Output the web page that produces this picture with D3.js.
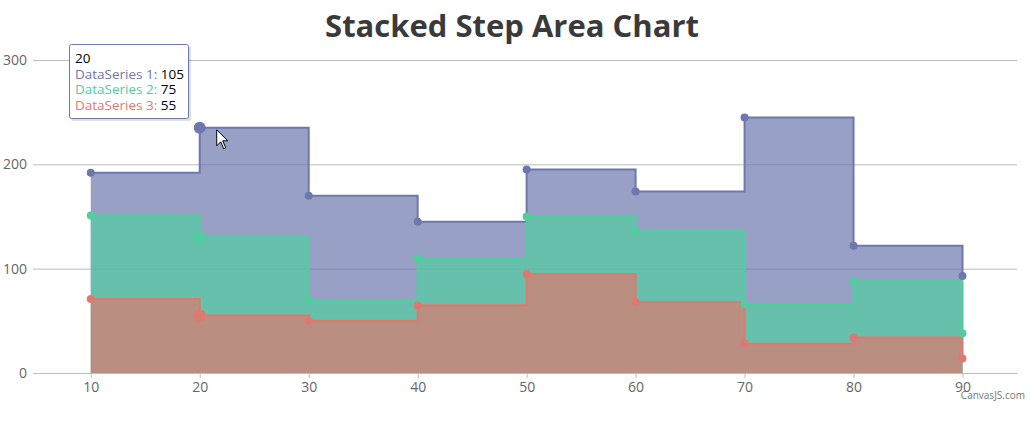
<!DOCTYPE html>
<html lang="en">
<head>
    <meta charset="UTF-8">
    <title>Stacked Step Area Chart</title>
    <script src="https://d3js.org/d3.v7.min.js"></script>
    <style>
        body { margin: 0; background: #fff; }
        text { font-family: "Open Sans", "DejaVu Sans", sans-serif; }
    </style>
</head>
<body>
    <div id="chart"></div>

    <script>
        // x values and the three series (bottom to top)
        const xValues = [10, 20, 30, 40, 50, 60, 70, 80, 90];
        const series3 = [71, 55, 50, 65, 95, 68, 28, 34, 14];   // red, bottom
        const series2 = [80, 75, 20, 45, 55, 68, 38, 54, 24];   // green, middle
        const series1 = [41, 105, 100, 35, 45, 38, 179, 34, 55]; // blue, top
        const yTicks = [0, 100, 200, 300];
        const xTicks = [10, 20, 30, 40, 50, 60, 70, 80, 90];
        const hoverIndex = 1; // tooltip is shown for x = 20

        const width = 1030, height = 421;

        const svg = d3.select("#chart")
                      .append("svg")
                      .attr("width", width)
                      .attr("height", height);

        const xScale = d3.scaleLinear().domain([4.7, 95]).range([33, 1017]);
        const yScale = d3.scaleLinear().domain([0, 300]).range([373, 60]);

        // Title
        svg.append("text")
           .attr("x", 512)
           .attr("y", 37)
           .attr("text-anchor", "middle")
           .style("font-size", "31px")
           .style("font-weight", "bold")
           .style("fill", "#3a3a3a")
           .text("Stacked Step Area Chart");

        // Horizontal grid lines + y labels
        const yAxis = d3.axisLeft(yScale)
                        .tickValues(yTicks)
                        .tickSize(-(xScale.range()[1] - xScale.range()[0]))
                        .tickPadding(6);
        const gy = svg.append("g")
                      .attr("transform", `translate(${xScale.range()[0]},0)`)
                      .call(yAxis);
        gy.select(".domain").remove();
        gy.selectAll("line").attr("stroke", "#bdbdbd");
        gy.selectAll("text")
          .style("font-size", "14px")
          .style("fill", "#666")
          .style("font-family", "'Open Sans', sans-serif");

        // Build stack
        const table = xValues.map((x, i) => ({ x: x, s3: series3[i], s2: series2[i], s1: series1[i] }));
        const stack = d3.stack().keys(["s3", "s2", "s1"]);
        const layers = stack(table);

        const colors = { s3: "#df7970", s2: "#51cda0", s1: "#6d78ad" };

        // Each area is filled from zero, drawn top-series first
        const area = d3.area()
                       .curve(d3.curveStepAfter)
                       .x(d => xScale(d.data.x))
                       .y0(yScale(0))
                       .y1(d => yScale(d[1]));
        const line = d3.line()
                       .curve(d3.curveStepAfter)
                       .x(d => xScale(d.data.x))
                       .y(d => yScale(d[1]));

        const drawOrder = layers.slice().reverse();

        drawOrder.forEach(layer => {
            svg.append("path")
               .datum(layer)
               .attr("d", area)
               .attr("fill", colors[layer.key])
               .attr("fill-opacity", 0.7);
        });

        drawOrder.forEach(layer => {
            svg.append("path")
               .datum(layer)
               .attr("d", line)
               .attr("fill", "none")
               .attr("stroke", colors[layer.key])
               .attr("stroke-width", 2);
        });

        drawOrder.forEach(layer => {
            svg.selectAll(null)
               .data(layer)
               .enter()
               .append("circle")
               .attr("cx", d => xScale(d.data.x))
               .attr("cy", d => yScale(d[1]))
               .attr("r", (d, i) => i === hoverIndex ? 6 : 4)
               .attr("fill", colors[layer.key]);
        });

        // X axis
        const xAxis = d3.axisBottom(xScale)
                        .tickValues(xTicks)
                        .tickSize(5)
                        .tickSizeOuter(0)
                        .tickPadding(4);
        const gx = svg.append("g")
                      .attr("transform", `translate(0,${yScale(0)})`)
                      .call(xAxis);
        gx.select(".domain").attr("stroke", "#bdbdbd");
        gx.selectAll("line").attr("stroke", "#bdbdbd");
        gx.selectAll("text")
          .style("font-size", "14px")
          .style("fill", "#666")
          .style("font-family", "'Open Sans', sans-serif");

        // Credit
        svg.append("text")
           .attr("x", 1025)
           .attr("y", 399)
           .attr("text-anchor", "end")
           .style("font-size", "10px")
           .style("fill", "#777")
           .text("CanvasJS.com");

        // Mouse cursor near the hovered point
        const cx = xScale(xValues[hoverIndex]) + 17, cy = yScale(table[hoverIndex].s3 + table[hoverIndex].s2 + table[hoverIndex].s1) + 2;
        svg.append("path")
           .attr("transform", `translate(${cx},${cy})`)
           .attr("d", "M0,0 L0,16 L4,12 L7,19 L9,18 L6,11 L11,11 Z")
           .attr("fill", "#fff")
           .attr("stroke", "#000")
           .attr("stroke-width", 1);

        // Tooltip
        const tip = svg.append("g").attr("transform", "translate(69,44)");
        tip.append("rect")
           .attr("x", 2).attr("y", 2)
           .attr("width", 120).attr("height", 75)
           .attr("rx", 2)
           .attr("fill", "#000")
           .attr("opacity", 0.12);
        tip.append("rect")
           .attr("x", 0.5).attr("y", 0.5)
           .attr("width", 119).attr("height", 74)
           .attr("rx", 2)
           .attr("fill", "#fff")
           .attr("stroke", colors.s1)
           .attr("stroke-width", 1);

        const tipRows = [
            { label: null, value: String(xValues[hoverIndex]), color: "#000" },
            { label: "DataSeries 1: ", value: series1[hoverIndex], color: colors.s1 },
            { label: "DataSeries 2: ", value: series2[hoverIndex], color: colors.s2 },
            { label: "DataSeries 3: ", value: series3[hoverIndex], color: colors.s3 }
        ];
        tipRows.forEach((r, i) => {
            const t = tip.append("text")
                         .attr("x", 6)
                         .attr("y", 19 + i * 15.5)
                         .style("font-size", "13.5px");
            if (r.label) {
                t.append("tspan").style("fill", r.color).text(r.label);
            }
            t.append("tspan").style("fill", "#000").text(r.value);
        });
    </script>
</body>
</html>
